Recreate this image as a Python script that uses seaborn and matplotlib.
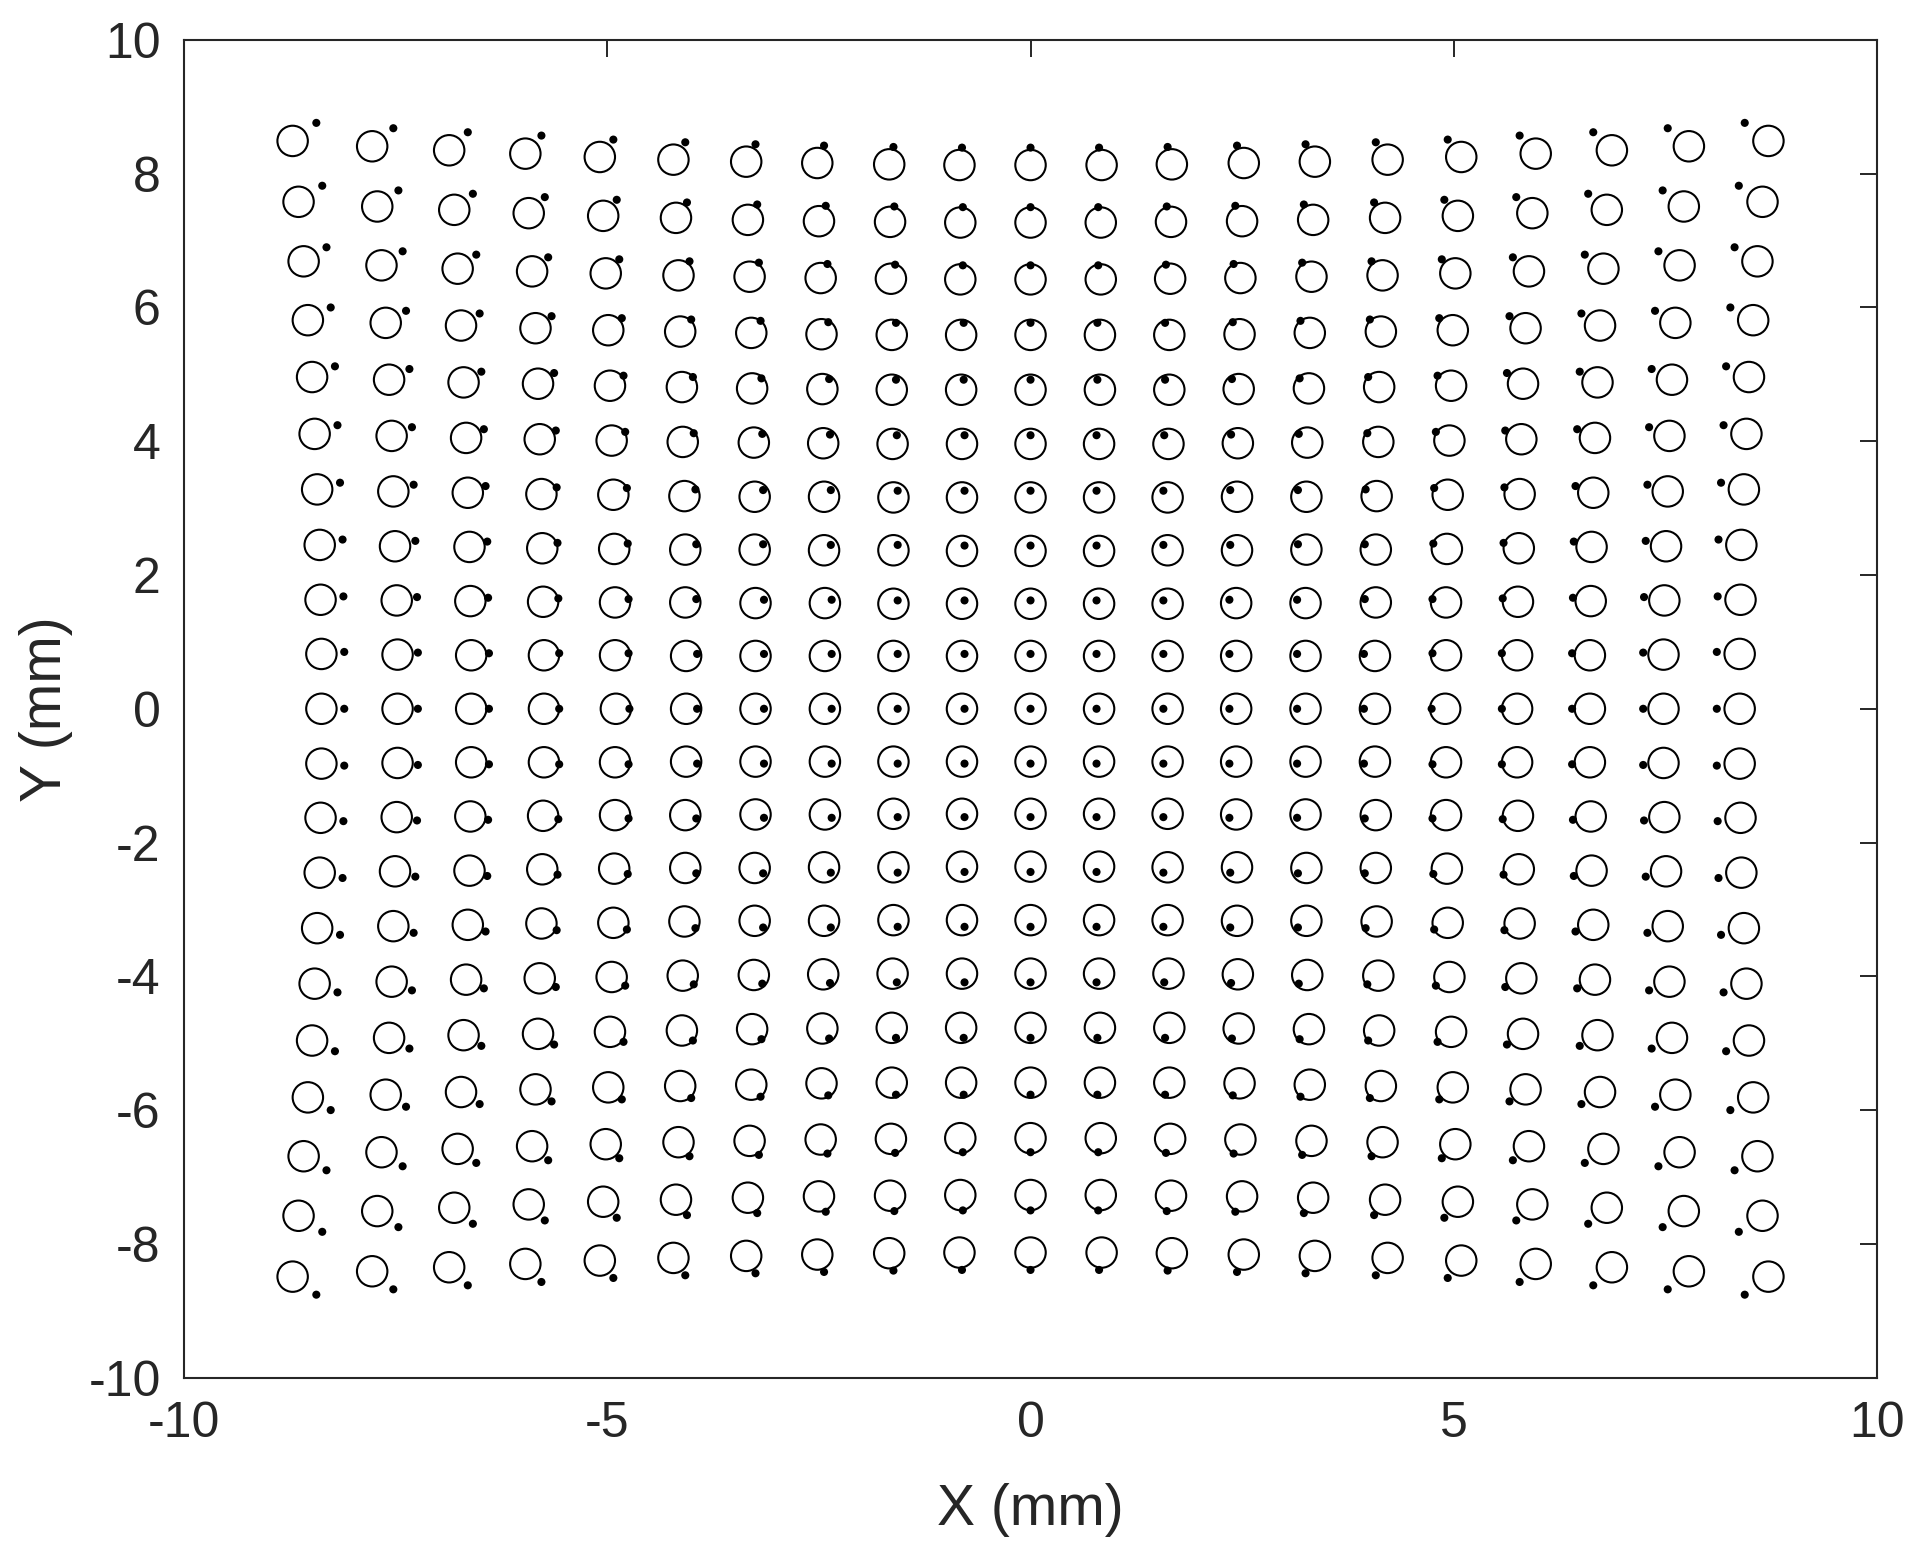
import numpy as np
import pandas as pd
import seaborn as sns
import matplotlib.pyplot as plt

# circle centres (mm); rows run from the top row (y > 0) down to the bottom row,
# columns run from left to right
circle_x = [
    [-8.72, -7.78, -6.87, -5.97, -5.09, -4.22, -3.36, -2.52, -1.67, -0.84, 0, 0.84, 1.67, 2.52, 3.36, 4.22, 5.09, 5.97, 6.87, 7.78, 8.72],
    [-8.65, -7.72, -6.81, -5.93, -5.05, -4.19, -3.34, -2.50, -1.66, -0.83, 0, 0.83, 1.66, 2.50, 3.34, 4.19, 5.05, 5.93, 6.81, 7.72, 8.65],
    [-8.59, -7.67, -6.77, -5.89, -5.02, -4.16, -3.32, -2.48, -1.65, -0.83, 0, 0.83, 1.65, 2.48, 3.32, 4.16, 5.02, 5.89, 6.77, 7.67, 8.59],
    [-8.54, -7.62, -6.73, -5.85, -4.99, -4.14, -3.30, -2.47, -1.64, -0.82, 0, 0.82, 1.64, 2.47, 3.30, 4.14, 4.99, 5.85, 6.73, 7.62, 8.54],
    [-8.49, -7.58, -6.70, -5.82, -4.97, -4.12, -3.29, -2.46, -1.64, -0.82, 0, 0.82, 1.64, 2.46, 3.29, 4.12, 4.97, 5.82, 6.70, 7.58, 8.49],
    [-8.46, -7.55, -6.67, -5.80, -4.95, -4.11, -3.27, -2.45, -1.63, -0.81, 0, 0.81, 1.63, 2.45, 3.27, 4.11, 4.95, 5.80, 6.67, 7.55, 8.46],
    [-8.43, -7.53, -6.65, -5.78, -4.93, -4.09, -3.26, -2.44, -1.62, -0.81, 0, 0.81, 1.62, 2.44, 3.26, 4.09, 4.93, 5.78, 6.65, 7.53, 8.43],
    [-8.40, -7.51, -6.63, -5.77, -4.92, -4.08, -3.26, -2.44, -1.62, -0.81, 0, 0.81, 1.62, 2.44, 3.26, 4.08, 4.92, 5.77, 6.63, 7.51, 8.40],
    [-8.39, -7.49, -6.62, -5.76, -4.91, -4.08, -3.25, -2.43, -1.62, -0.81, 0, 0.81, 1.62, 2.43, 3.25, 4.08, 4.91, 5.76, 6.62, 7.49, 8.39],
    [-8.38, -7.48, -6.61, -5.75, -4.91, -4.07, -3.25, -2.43, -1.62, -0.81, 0, 0.81, 1.62, 2.43, 3.25, 4.07, 4.91, 5.75, 6.61, 7.48, 8.38],
    [-8.38, -7.48, -6.61, -5.75, -4.90, -4.07, -3.25, -2.43, -1.62, -0.81, 0, 0.81, 1.62, 2.43, 3.25, 4.07, 4.90, 5.75, 6.61, 7.48, 8.38],
    [-8.38, -7.48, -6.61, -5.75, -4.91, -4.07, -3.25, -2.43, -1.62, -0.81, 0, 0.81, 1.62, 2.43, 3.25, 4.07, 4.91, 5.75, 6.61, 7.48, 8.38],
    [-8.39, -7.49, -6.62, -5.76, -4.91, -4.08, -3.25, -2.43, -1.62, -0.81, 0, 0.81, 1.62, 2.43, 3.25, 4.08, 4.91, 5.76, 6.62, 7.49, 8.39],
    [-8.40, -7.51, -6.63, -5.77, -4.92, -4.08, -3.26, -2.44, -1.62, -0.81, 0, 0.81, 1.62, 2.44, 3.26, 4.08, 4.92, 5.77, 6.63, 7.51, 8.40],
    [-8.43, -7.53, -6.65, -5.78, -4.93, -4.09, -3.26, -2.44, -1.62, -0.81, 0, 0.81, 1.62, 2.44, 3.26, 4.09, 4.93, 5.78, 6.65, 7.53, 8.43],
    [-8.46, -7.55, -6.67, -5.80, -4.95, -4.11, -3.27, -2.45, -1.63, -0.81, 0, 0.81, 1.63, 2.45, 3.27, 4.11, 4.95, 5.80, 6.67, 7.55, 8.46],
    [-8.49, -7.58, -6.70, -5.82, -4.97, -4.12, -3.29, -2.46, -1.64, -0.82, 0, 0.82, 1.64, 2.46, 3.29, 4.12, 4.97, 5.82, 6.70, 7.58, 8.49],
    [-8.54, -7.62, -6.73, -5.85, -4.99, -4.14, -3.30, -2.47, -1.64, -0.82, 0, 0.82, 1.64, 2.47, 3.30, 4.14, 4.99, 5.85, 6.73, 7.62, 8.54],
    [-8.59, -7.67, -6.77, -5.89, -5.02, -4.16, -3.32, -2.48, -1.65, -0.83, 0, 0.83, 1.65, 2.48, 3.32, 4.16, 5.02, 5.89, 6.77, 7.67, 8.59],
    [-8.65, -7.72, -6.81, -5.93, -5.05, -4.19, -3.34, -2.50, -1.66, -0.83, 0, 0.83, 1.66, 2.50, 3.34, 4.19, 5.05, 5.93, 6.81, 7.72, 8.65],
    [-8.72, -7.78, -6.87, -5.97, -5.09, -4.22, -3.36, -2.52, -1.67, -0.84, 0, 0.84, 1.67, 2.52, 3.36, 4.22, 5.09, 5.97, 6.87, 7.78, 8.72],
]
circle_y = [
    [8.49, 8.41, 8.35, 8.30, 8.25, 8.21, 8.18, 8.16, 8.14, 8.13, 8.13, 8.13, 8.14, 8.16, 8.18, 8.21, 8.25, 8.30, 8.35, 8.41, 8.49],
    [7.58, 7.51, 7.46, 7.41, 7.37, 7.34, 7.31, 7.29, 7.28, 7.27, 7.27, 7.27, 7.28, 7.29, 7.31, 7.34, 7.37, 7.41, 7.46, 7.51, 7.58],
    [6.69, 6.63, 6.58, 6.54, 6.51, 6.48, 6.46, 6.44, 6.43, 6.42, 6.42, 6.42, 6.43, 6.44, 6.46, 6.48, 6.51, 6.54, 6.58, 6.63, 6.69],
    [5.81, 5.77, 5.73, 5.69, 5.66, 5.64, 5.62, 5.60, 5.59, 5.59, 5.59, 5.59, 5.59, 5.60, 5.62, 5.64, 5.66, 5.69, 5.73, 5.77, 5.81],
    [4.96, 4.92, 4.88, 4.86, 4.83, 4.81, 4.79, 4.78, 4.77, 4.77, 4.77, 4.77, 4.77, 4.78, 4.79, 4.81, 4.83, 4.86, 4.88, 4.92, 4.96],
    [4.11, 4.08, 4.05, 4.03, 4.01, 3.99, 3.98, 3.97, 3.96, 3.96, 3.96, 3.96, 3.96, 3.97, 3.98, 3.99, 4.01, 4.03, 4.05, 4.08, 4.11],
    [3.28, 3.25, 3.23, 3.21, 3.20, 3.18, 3.17, 3.17, 3.16, 3.16, 3.16, 3.16, 3.16, 3.17, 3.17, 3.18, 3.20, 3.21, 3.23, 3.25, 3.28],
    [2.45, 2.43, 2.42, 2.40, 2.39, 2.38, 2.38, 2.37, 2.37, 2.36, 2.36, 2.36, 2.37, 2.37, 2.38, 2.38, 2.39, 2.40, 2.42, 2.43, 2.45],
    [1.63, 1.62, 1.61, 1.60, 1.59, 1.59, 1.58, 1.58, 1.57, 1.57, 1.57, 1.57, 1.57, 1.58, 1.58, 1.59, 1.59, 1.60, 1.61, 1.62, 1.63],
    [0.82, 0.81, 0.80, 0.80, 0.80, 0.79, 0.79, 0.79, 0.79, 0.79, 0.79, 0.79, 0.79, 0.79, 0.79, 0.79, 0.80, 0.80, 0.80, 0.81, 0.82],
    [0, 0, 0, 0, 0, 0, 0, 0, 0, 0, 0, 0, 0, 0, 0, 0, 0, 0, 0, 0, 0],
    [-0.82, -0.81, -0.80, -0.80, -0.80, -0.79, -0.79, -0.79, -0.79, -0.79, -0.79, -0.79, -0.79, -0.79, -0.79, -0.79, -0.80, -0.80, -0.80, -0.81, -0.82],
    [-1.63, -1.62, -1.61, -1.60, -1.59, -1.59, -1.58, -1.58, -1.57, -1.57, -1.57, -1.57, -1.57, -1.58, -1.58, -1.59, -1.59, -1.60, -1.61, -1.62, -1.63],
    [-2.45, -2.43, -2.42, -2.40, -2.39, -2.38, -2.38, -2.37, -2.37, -2.36, -2.36, -2.36, -2.37, -2.37, -2.38, -2.38, -2.39, -2.40, -2.42, -2.43, -2.45],
    [-3.28, -3.25, -3.23, -3.21, -3.20, -3.18, -3.17, -3.17, -3.16, -3.16, -3.16, -3.16, -3.16, -3.17, -3.17, -3.18, -3.20, -3.21, -3.23, -3.25, -3.28],
    [-4.11, -4.08, -4.05, -4.03, -4.01, -3.99, -3.98, -3.97, -3.96, -3.96, -3.96, -3.96, -3.96, -3.97, -3.98, -3.99, -4.01, -4.03, -4.05, -4.08, -4.11],
    [-4.96, -4.92, -4.88, -4.86, -4.83, -4.81, -4.79, -4.78, -4.77, -4.77, -4.77, -4.77, -4.77, -4.78, -4.79, -4.81, -4.83, -4.86, -4.88, -4.92, -4.96],
    [-5.81, -5.77, -5.73, -5.69, -5.66, -5.64, -5.62, -5.60, -5.59, -5.59, -5.59, -5.59, -5.59, -5.60, -5.62, -5.64, -5.66, -5.69, -5.73, -5.77, -5.81],
    [-6.69, -6.63, -6.58, -6.54, -6.51, -6.48, -6.46, -6.44, -6.43, -6.42, -6.42, -6.42, -6.43, -6.44, -6.46, -6.48, -6.51, -6.54, -6.58, -6.63, -6.69],
    [-7.58, -7.51, -7.46, -7.41, -7.37, -7.34, -7.31, -7.29, -7.28, -7.27, -7.27, -7.27, -7.28, -7.29, -7.31, -7.34, -7.37, -7.41, -7.46, -7.51, -7.58],
    [-8.49, -8.41, -8.35, -8.30, -8.25, -8.21, -8.18, -8.16, -8.14, -8.13, -8.13, -8.13, -8.14, -8.16, -8.18, -8.21, -8.25, -8.30, -8.35, -8.41, -8.49],
]

# dot positions (mm), same row / column order as the circles
dot_x = [
    [-8.44, -7.53, -6.65, -5.78, -4.93, -4.08, -3.25, -2.44, -1.62, -0.81, 0, 0.81, 1.62, 2.44, 3.25, 4.08, 4.93, 5.78, 6.65, 7.53, 8.44],
    [-8.37, -7.47, -6.59, -5.74, -4.89, -4.06, -3.23, -2.42, -1.61, -0.80, 0, 0.80, 1.61, 2.42, 3.23, 4.06, 4.89, 5.74, 6.59, 7.47, 8.37],
    [-8.32, -7.42, -6.55, -5.70, -4.86, -4.03, -3.21, -2.40, -1.60, -0.80, 0, 0.80, 1.60, 2.40, 3.21, 4.03, 4.86, 5.70, 6.55, 7.42, 8.32],
    [-8.27, -7.38, -6.51, -5.66, -4.83, -4.01, -3.19, -2.39, -1.59, -0.79, 0, 0.79, 1.59, 2.39, 3.19, 4.01, 4.83, 5.66, 6.51, 7.38, 8.27],
    [-8.22, -7.34, -6.49, -5.63, -4.81, -3.99, -3.18, -2.38, -1.59, -0.79, 0, 0.79, 1.59, 2.38, 3.18, 3.99, 4.81, 5.63, 6.49, 7.34, 8.22],
    [-8.19, -7.31, -6.46, -5.61, -4.79, -3.98, -3.17, -2.37, -1.58, -0.78, 0, 0.78, 1.58, 2.37, 3.17, 3.98, 4.79, 5.61, 6.46, 7.31, 8.19],
    [-8.16, -7.29, -6.44, -5.60, -4.77, -3.96, -3.16, -2.36, -1.57, -0.78, 0, 0.78, 1.57, 2.36, 3.16, 3.96, 4.77, 5.60, 6.44, 7.29, 8.16],
    [-8.13, -7.27, -6.42, -5.59, -4.76, -3.95, -3.16, -2.36, -1.57, -0.78, 0, 0.78, 1.57, 2.36, 3.16, 3.95, 4.76, 5.59, 6.42, 7.27, 8.13],
    [-8.12, -7.25, -6.41, -5.58, -4.75, -3.95, -3.15, -2.35, -1.57, -0.78, 0, 0.78, 1.57, 2.35, 3.15, 3.95, 4.75, 5.58, 6.41, 7.25, 8.12],
    [-8.11, -7.24, -6.40, -5.57, -4.75, -3.94, -3.15, -2.35, -1.57, -0.78, 0, 0.78, 1.57, 2.35, 3.15, 3.94, 4.75, 5.57, 6.40, 7.24, 8.11],
    [-8.11, -7.24, -6.40, -5.57, -4.74, -3.94, -3.15, -2.35, -1.57, -0.78, 0, 0.78, 1.57, 2.35, 3.15, 3.94, 4.74, 5.57, 6.40, 7.24, 8.11],
    [-8.11, -7.24, -6.40, -5.57, -4.75, -3.94, -3.15, -2.35, -1.57, -0.78, 0, 0.78, 1.57, 2.35, 3.15, 3.94, 4.75, 5.57, 6.40, 7.24, 8.11],
    [-8.12, -7.25, -6.41, -5.58, -4.75, -3.95, -3.15, -2.35, -1.57, -0.78, 0, 0.78, 1.57, 2.35, 3.15, 3.95, 4.75, 5.58, 6.41, 7.25, 8.12],
    [-8.13, -7.27, -6.42, -5.59, -4.76, -3.95, -3.16, -2.36, -1.57, -0.78, 0, 0.78, 1.57, 2.36, 3.16, 3.95, 4.76, 5.59, 6.42, 7.27, 8.13],
    [-8.16, -7.29, -6.44, -5.60, -4.77, -3.96, -3.16, -2.36, -1.57, -0.78, 0, 0.78, 1.57, 2.36, 3.16, 3.96, 4.77, 5.60, 6.44, 7.29, 8.16],
    [-8.19, -7.31, -6.46, -5.61, -4.79, -3.98, -3.17, -2.37, -1.58, -0.78, 0, 0.78, 1.58, 2.37, 3.17, 3.98, 4.79, 5.61, 6.46, 7.31, 8.19],
    [-8.22, -7.34, -6.49, -5.63, -4.81, -3.99, -3.18, -2.38, -1.59, -0.79, 0, 0.79, 1.59, 2.38, 3.18, 3.99, 4.81, 5.63, 6.49, 7.34, 8.22],
    [-8.27, -7.38, -6.51, -5.66, -4.83, -4.01, -3.19, -2.39, -1.59, -0.79, 0, 0.79, 1.59, 2.39, 3.19, 4.01, 4.83, 5.66, 6.51, 7.38, 8.27],
    [-8.32, -7.42, -6.55, -5.70, -4.86, -4.03, -3.21, -2.40, -1.60, -0.80, 0, 0.80, 1.60, 2.40, 3.21, 4.03, 4.86, 5.70, 6.55, 7.42, 8.32],
    [-8.37, -7.47, -6.59, -5.74, -4.89, -4.06, -3.23, -2.42, -1.61, -0.80, 0, 0.80, 1.61, 2.42, 3.23, 4.06, 4.89, 5.74, 6.59, 7.47, 8.37],
    [-8.44, -7.53, -6.65, -5.78, -4.93, -4.08, -3.25, -2.44, -1.62, -0.81, 0, 0.81, 1.62, 2.44, 3.25, 4.08, 4.93, 5.78, 6.65, 7.53, 8.44],
]
dot_y = [
    [8.76, 8.68, 8.62, 8.57, 8.51, 8.47, 8.44, 8.42, 8.40, 8.39, 8.39, 8.39, 8.40, 8.42, 8.44, 8.47, 8.51, 8.57, 8.62, 8.68, 8.76],
    [7.82, 7.75, 7.70, 7.65, 7.61, 7.57, 7.54, 7.52, 7.51, 7.50, 7.50, 7.50, 7.51, 7.52, 7.54, 7.57, 7.61, 7.65, 7.70, 7.75, 7.82],
    [6.90, 6.84, 6.79, 6.75, 6.72, 6.69, 6.67, 6.65, 6.64, 6.63, 6.63, 6.63, 6.64, 6.65, 6.67, 6.69, 6.72, 6.75, 6.79, 6.84, 6.90],
    [6.00, 5.95, 5.91, 5.87, 5.84, 5.82, 5.80, 5.78, 5.77, 5.77, 5.77, 5.77, 5.77, 5.78, 5.80, 5.82, 5.84, 5.87, 5.91, 5.95, 6.00],
    [5.12, 5.08, 5.04, 5.02, 4.98, 4.96, 4.94, 4.93, 4.92, 4.92, 4.92, 4.92, 4.92, 4.93, 4.94, 4.96, 4.98, 5.02, 5.04, 5.08, 5.12],
    [4.24, 4.21, 4.18, 4.16, 4.14, 4.12, 4.11, 4.10, 4.09, 4.09, 4.09, 4.09, 4.09, 4.10, 4.11, 4.12, 4.14, 4.16, 4.18, 4.21, 4.24],
    [3.38, 3.35, 3.33, 3.31, 3.30, 3.28, 3.27, 3.27, 3.26, 3.26, 3.26, 3.26, 3.26, 3.27, 3.27, 3.28, 3.30, 3.31, 3.33, 3.35, 3.38],
    [2.53, 2.51, 2.50, 2.48, 2.47, 2.46, 2.46, 2.45, 2.45, 2.44, 2.44, 2.44, 2.45, 2.45, 2.46, 2.46, 2.47, 2.48, 2.50, 2.51, 2.53],
    [1.68, 1.67, 1.66, 1.65, 1.64, 1.64, 1.63, 1.63, 1.62, 1.62, 1.62, 1.62, 1.62, 1.63, 1.63, 1.64, 1.64, 1.65, 1.66, 1.67, 1.68],
    [0.85, 0.84, 0.83, 0.83, 0.83, 0.82, 0.82, 0.82, 0.82, 0.82, 0.82, 0.82, 0.82, 0.82, 0.82, 0.82, 0.83, 0.83, 0.83, 0.84, 0.85],
    [0, 0, 0, 0, 0, 0, 0, 0, 0, 0, 0, 0, 0, 0, 0, 0, 0, 0, 0, 0, 0],
    [-0.85, -0.84, -0.83, -0.83, -0.83, -0.82, -0.82, -0.82, -0.82, -0.82, -0.82, -0.82, -0.82, -0.82, -0.82, -0.82, -0.83, -0.83, -0.83, -0.84, -0.85],
    [-1.68, -1.67, -1.66, -1.65, -1.64, -1.64, -1.63, -1.63, -1.62, -1.62, -1.62, -1.62, -1.62, -1.63, -1.63, -1.64, -1.64, -1.65, -1.66, -1.67, -1.68],
    [-2.53, -2.51, -2.50, -2.48, -2.47, -2.46, -2.46, -2.45, -2.45, -2.44, -2.44, -2.44, -2.45, -2.45, -2.46, -2.46, -2.47, -2.48, -2.50, -2.51, -2.53],
    [-3.38, -3.35, -3.33, -3.31, -3.30, -3.28, -3.27, -3.27, -3.26, -3.26, -3.26, -3.26, -3.26, -3.27, -3.27, -3.28, -3.30, -3.31, -3.33, -3.35, -3.38],
    [-4.24, -4.21, -4.18, -4.16, -4.14, -4.12, -4.11, -4.10, -4.09, -4.09, -4.09, -4.09, -4.09, -4.10, -4.11, -4.12, -4.14, -4.16, -4.18, -4.21, -4.24],
    [-5.12, -5.08, -5.04, -5.02, -4.98, -4.96, -4.94, -4.93, -4.92, -4.92, -4.92, -4.92, -4.92, -4.93, -4.94, -4.96, -4.98, -5.02, -5.04, -5.08, -5.12],
    [-6.00, -5.95, -5.91, -5.87, -5.84, -5.82, -5.80, -5.78, -5.77, -5.77, -5.77, -5.77, -5.77, -5.78, -5.80, -5.82, -5.84, -5.87, -5.91, -5.95, -6.00],
    [-6.90, -6.84, -6.79, -6.75, -6.72, -6.69, -6.67, -6.65, -6.64, -6.63, -6.63, -6.63, -6.64, -6.65, -6.67, -6.69, -6.72, -6.75, -6.79, -6.84, -6.90],
    [-7.82, -7.75, -7.70, -7.65, -7.61, -7.57, -7.54, -7.52, -7.51, -7.50, -7.50, -7.50, -7.51, -7.52, -7.54, -7.57, -7.61, -7.65, -7.70, -7.75, -7.82],
    [-8.76, -8.68, -8.62, -8.57, -8.51, -8.47, -8.44, -8.42, -8.40, -8.39, -8.39, -8.39, -8.40, -8.42, -8.44, -8.47, -8.51, -8.57, -8.62, -8.68, -8.76],
]

x_ticks = [-10, -5, 0, 5, 10]
y_ticks = [-10, -8, -6, -4, -2, 0, 2, 4, 6, 8, 10]

circles = pd.DataFrame({'X': np.ravel(circle_x), 'Y': np.ravel(circle_y)})
dots = pd.DataFrame({'X': np.ravel(dot_x), 'Y': np.ravel(dot_y)})

sns.set_style('white')
plt.rcParams['font.family'] = ['Liberation Sans', 'DejaVu Sans']
plt.rcParams['axes.unicode_minus'] = False

axis_color = '#262626'
fig = plt.figure(figsize=(19.32, 15.54), dpi=100)
ax = fig.add_axes([0.0954, 0.1135, 0.876, 0.8608])

sns.scatterplot(data=circles, x='X', y='Y', ax=ax, s=480, marker='o',
                facecolor='none', edgecolor='black', linewidth=1.5, legend=False)
sns.scatterplot(data=dots, x='X', y='Y', ax=ax, s=34, marker='o',
                color='black', edgecolor='none', linewidth=0, legend=False)

ax.set_xlim(-10, 10)
ax.set_ylim(-10, 10)
ax.set_xticks(x_ticks)
ax.set_yticks(y_ticks)
ax.set_xlabel('X (mm)', fontsize=41, color=axis_color, labelpad=26)
ax.set_ylabel('Y (mm)', fontsize=41, color=axis_color, labelpad=11)
ax.tick_params(direction='in', length=12, width=1.4, labelsize=36,
               colors=axis_color, top=True, right=True, pad=17)

for spine in ax.spines.values():
    spine.set_visible(True)
    spine.set_color(axis_color)
    spine.set_linewidth(1.5)

fig.savefig('out.png', dpi=100, facecolor='white')
